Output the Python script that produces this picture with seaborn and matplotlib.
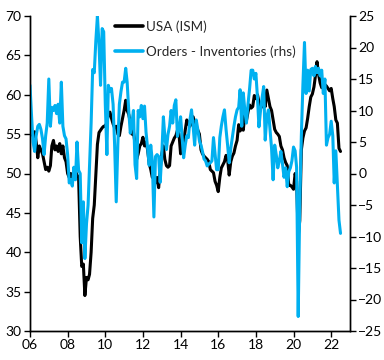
import pandas as pd
import matplotlib
matplotlib.use("Agg")
import matplotlib.pyplot as plt
import matplotlib.dates as mdates
from matplotlib.lines import Line2D
import seaborn as sns

# monthly, Jan 2006 .. Jul 2022
dates = pd.date_range("2006-01-01", "2022-07-01", freq="MS")

ism = [
    55.8, 55.0, 54.8, 55.3, 54.0, 52.0, 53.5, 53.0, 52.5, 51.5, 50.5, 50.8,  # 2006
    50.3, 51.0, 53.5, 54.2, 53.0, 53.5, 52.8, 53.8, 52.5, 53.5, 52.0, 51.5,  # 2007
    50.0, 49.5, 50.0, 49.5, 50.0, 50.3, 49.8, 49.5, 42.0, 38.2, 38.5, 34.5,  # 2008
    36.8, 36.5, 37.2, 40.0, 44.3, 46.0, 49.8, 53.7, 55.2, 55.5, 55.8, 56.0,  # 2009
    56.0, 56.5, 57.5, 57.8, 57.0, 56.3, 55.8, 56.0, 55.0, 54.8, 56.0, 57.0,  # 2010
    58.0, 59.3, 58.0, 57.5, 56.5, 55.0, 55.3, 53.8, 51.8, 52.5, 53.5, 53.8,  # 2011
    54.6, 53.5, 54.0, 53.0, 51.3, 50.5, 49.5, 50.0, 48.8, 49.5, 48.2, 50.5,  # 2012
    52.5, 53.5, 51.8, 51.0, 50.8, 51.0, 53.5, 54.0, 54.5, 54.8, 55.5, 55.0,  # 2013
    52.5, 53.5, 54.0, 55.5, 56.8, 56.3, 56.0, 56.5, 57.2, 56.5, 56.0, 55.5,  # 2014
    55.0, 53.0, 52.5, 52.2, 52.0, 51.8, 51.5, 50.5, 50.3, 50.1, 49.0, 48.5,  # 2015
    47.7, 49.5, 50.7, 51.1, 51.5, 52.3, 51.8, 49.8, 51.5, 52.2, 52.6, 53.5,  # 2016
    54.2, 56.2, 55.4, 55.8, 55.5, 57.5, 56.7, 57.8, 58.7, 58.3, 58.5, 59.9,  # 2017
    59.5, 60.0, 59.1, 58.3, 58.5, 60.0, 58.5, 60.6, 59.5, 58.5, 58.0, 56.8,  # 2018
    55.6, 55.2, 55.0, 54.7, 53.5, 53.0, 52.0, 51.4, 51.0, 48.5, 48.5, 48.3,  # 2019
    48.0, 50.0, 49.0, 42.0, 44.0, 53.0, 54.5, 55.4, 55.8, 57.0, 58.5, 59.7,  # 2020
    60.1, 61.0, 62.4, 64.2, 62.6, 61.5, 60.9, 61.5, 61.3, 61.1, 60.8, 60.5,  # 2021
    60.8, 59.5, 58.5, 56.8, 56.4, 53.2, 52.8,                                # 2022
]

orders_less_inv = [
    14.0, 9.0, 5.0, 3.5, 6.0, 7.5, 7.8, 7.0, 5.5, 3.0, 6.0, 8.0,          # 2006
    15.0, 7.5, 10.5, 10.0, 10.8, 9.5, 11.0, 8.0, 14.5, 7.5, 6.0, 5.5,     # 2007
    3.0, -1.5, -1.0, -2.0, 1.0, -1.0, 5.0, 0.5, 0.0, -11.0, -4.5, -13.5,  # 2008
    -8.0, -5.0, 1.0, 8.0, 16.5, 16.0, 21.0, 25.0, 20.5, 14.0, 23.0, 22.5, # 2009
    11.0, 3.0, 14.0, 13.0, 13.5, 11.0, 4.5, -4.5, 4.5, 11.0, 13.0, 14.5,  # 2010
    14.5, 16.7, 14.5, 10.0, 6.4, 8.0, 10.0, 1.4, -0.8, 10.0, 9.0, 10.8,   # 2011
    8.7, 10.7, 6.6, 4.0, 1.3, 4.5, 2.0, -6.9, 2.7, 3.0, 2.7, -1.4,        # 2012
    3.0, 9.0, 5.9, 3.8, 6.2, 7.5, 10.0, 8.0, 10.8, 11.7, 5.9, 7.0,        # 2013
    9.0, 5.5, 2.5, 4.5, 6.0, 5.7, 8.5, 10.1, 7.5, 4.5, 8.5, 7.0,          # 2014
    5.2, 4.5, 3.5, 2.3, 2.0, 1.2, 1.5, 1.7, 2.0, 5.7, 3.1, 0.6,           # 2015
    0.6, 5.7, 7.5, 9.0, 10.1, 7.0, 4.5, 1.7, 4.0, 5.7, 7.5, 9.0,          # 2016
    10.1, 10.5, 13.3, 7.5, 12.8, 10.0, 8.0, 11.0, 13.5, 16.4, 16.4, 15.0, # 2017
    15.9, 12.0, 7.4, 10.0, 12.0, 13.8, 5.3, 9.0, 10.1, 7.0, 4.0, -1.0,    # 2018
    4.5, 2.9, 0.9, 2.0, 3.5, 1.5, -0.6, 0.9, -2.1, 0.3, 0.9, 2.0,         # 2019
    4.2, 3.6, 1.0, -22.7, -5.0, 6.0, 14.0, 20.8, 12.7, 16.4, 13.1, 16.5,  # 2020
    16.7, 15.5, 17.0, 16.0, 16.7, 15.5, 16.4, 12.7, 15.0, 4.5, 5.7, 6.2,  # 2021
    8.3, 6.0, -1.5, 3.6, -2.0, -7.4, -9.5,                                # 2022
]

left_ticks = [30, 35, 40, 45, 50, 55, 60, 65, 70]
right_ticks = [-25, -20, -15, -10, -5, 0, 5, 10, 15, 20, 25]
labels = ["USA (ISM)", "Orders - Inventories (rhs)"]

black = "#000000"
blue = "#00B0F0"

sns.set_style("ticks")
plt.rcParams["font.family"] = ["Lato", "DejaVu Sans"]
plt.rcParams["font.size"] = 10

df = pd.DataFrame({"date": dates, "ism": ism, "oi": orders_less_inv})

fig = plt.figure(figsize=(3.84, 3.60), dpi=100)
ax = fig.add_axes([30 / 384, 29 / 360, 320 / 384, 315 / 360])
sns.lineplot(data=df, x="date", y="ism", ax=ax, color=black, linewidth=2.2)
ax2 = ax.twinx()
sns.lineplot(data=df, x="date", y="oi", ax=ax2, color=blue, linewidth=2.2)

ax.set_ylim(30, 70)
ax.set_yticks(left_ticks)
ax2.set_ylim(-25, 25)
ax2.set_yticks(right_ticks)
ax.set_xlim(pd.Timestamp("2006-01-01"), pd.Timestamp("2023-01-01"))
ax.xaxis.set_major_locator(mdates.YearLocator(2))
ax.xaxis.set_major_formatter(mdates.DateFormatter("%y"))

for a in (ax, ax2):
    a.set_xlabel("")
    a.set_ylabel("")
    a.spines["top"].set_visible(False)
    for s in a.spines.values():
        s.set_linewidth(1.0)
        s.set_color("black")
    a.tick_params(direction="out", length=4, width=1, colors="black",
                  labelsize=10, pad=2)

handles = [Line2D([], [], color=black, linewidth=2.6),
           Line2D([], [], color=blue, linewidth=2.6)]
ax2.legend(handles, labels, loc="upper left", bbox_to_anchor=(0.265, 0.987),
           frameon=False, borderpad=0, borderaxespad=0, handlelength=2.1,
           handletextpad=0.2, labelspacing=0.95, fontsize=9.7)

fig.savefig("out.png", dpi=100)
